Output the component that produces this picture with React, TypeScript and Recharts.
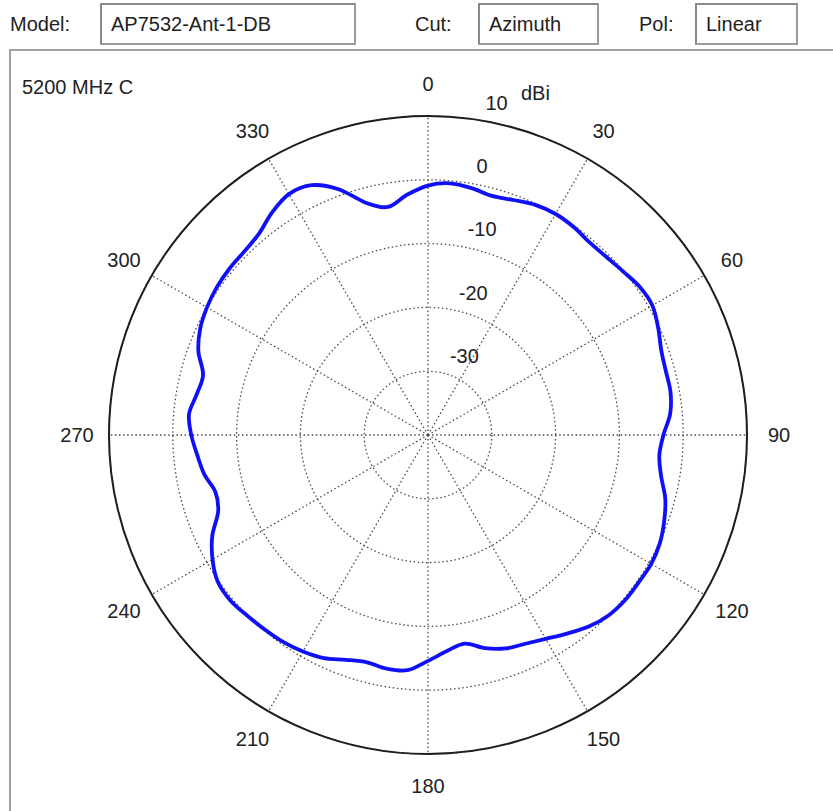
import React from 'react';
import { RadarChart, Radar, PolarGrid, PolarAngleAxis, PolarRadiusAxis } from 'recharts';

// ---- data ----
const angles = [
  0, 5, 10, 15, 20, 25, 30, 35, 40, 45, 50, 55,
  60, 65, 70, 75, 80, 85, 90, 95, 100, 105, 110, 115,
  120, 125, 130, 135, 140, 145, 150, 155, 160, 165, 170, 175,
  180, 185, 190, 195, 200, 205, 210, 215, 220, 225, 230, 235,
  240, 245, 250, 255, 260, 265, 270, 275, 280, 285, 290, 295,
  300, 305, 310, 315, 320, 325, 330, 335, 340, 345, 350, 355,
];
const gainDbi = [
  -0.9, -0.4, -0.7, -1.2, -0.8, -0.2, 0.0, -0.2, -0.6, -0.5, -0.1, 0.5,
  0.6, -0.2, -1.1, -1.4, -1.4, -1.9, -3.1, -3.6, -2.9, -1.5, -0.6, 0.1,
  0.4, 0.3, 0.3, 0.0, -0.8, -2.0, -3.1, -3.9, -4.4, -5.4, -6.8, -6.0,
  -4.6, -3.0, -2.8, -3.1, -2.5, -1.4, -0.8, -0.4, -0.2, 0.05, 0.4, 0.2,
  -1.0, -2.7, -5.0, -5.5, -4.4, -3.7, -2.9, -2.4, -3.2, -3.5, -1.7, -0.6,
  0.0, 0.4, 0.6, 0.7, 1.2, 2.6, 3.6, 3.2, 1.0, -2.3, -3.7, -2.2,
];
const angleTicks = [0, 30, 60, 90, 120, 150, 180, 210, 240, 270, 300, 330];
const radiusTicks = [-30, -20, -10, 0, 10];
const radiusDomain = [-40, 10];
const modelName = 'AP7532-Ant-1-DB';
const cutName = 'Azimuth';
const polName = 'Linear';
const bandLabel = '5200 MHz C';
const unitLabel = 'dBi';

const data = angles.map((a, i) => ({ angle: a, gain: gainDbi[i] }));

const FONT = '"Liberation Sans", Arial, Helvetica, sans-serif';
const TEXT = '#222';

const AngleTick = (props: any) => {
  const { x, y, payload } = props;
  return (
    <text x={x} y={y} textAnchor="middle" dominantBaseline="central" fontSize={20} fontFamily={FONT} fill={TEXT}>
      {payload.value}
    </text>
  );
};

const RadiusTick = (props: any) => {
  const { x, y, payload } = props;
  return (
    <g>
      <text x={x + 13} y={y - 16} textAnchor="start" dominantBaseline="central" fontSize={20} fontFamily={FONT} fill={TEXT}>
        {payload.value}
      </text>
      {payload.value === radiusTicks[radiusTicks.length - 1] && (
        <text x={x + 63} y={y - 26} textAnchor="middle" dominantBaseline="central" fontSize={20} fontFamily={FONT} fill={TEXT}>
          {unitLabel}
        </text>
      )}
    </g>
  );
};

// closed smooth curve through the points Recharts computed
const SmoothShape = (props: any) => {
  const pts = (props.points || []).filter((p: any) => p && Number.isFinite(p.x) && Number.isFinite(p.y));
  const n = pts.length;
  if (n < 3) return null;
  let d = `M${pts[0].x},${pts[0].y}`;
  for (let i = 0; i < n; i++) {
    const p0 = pts[(i - 1 + n) % n];
    const p1 = pts[i];
    const p2 = pts[(i + 1) % n];
    const p3 = pts[(i + 2) % n];
    const c1x = p1.x + (p2.x - p0.x) / 6;
    const c1y = p1.y + (p2.y - p0.y) / 6;
    const c2x = p2.x - (p3.x - p1.x) / 6;
    const c2y = p2.y - (p3.y - p1.y) / 6;
    d += ` C${c1x},${c1y} ${c2x},${c2y} ${p2.x},${p2.y}`;
  }
  d += ' Z';
  return (
    <path
      d={d}
      fill="none"
      stroke={props.stroke}
      strokeWidth={props.strokeWidth}
      strokeLinejoin="round"
      strokeLinecap="round"
    />
  );
};

const labelStyle: React.CSSProperties = {
  position: 'absolute',
  top: 3,
  height: 42,
  lineHeight: '42px',
  fontSize: 20,
  fontFamily: FONT,
  color: TEXT,
  whiteSpace: 'nowrap',
};

const boxStyle: React.CSSProperties = {
  ...labelStyle,
  boxSizing: 'border-box',
  lineHeight: '38px',
  border: '2px solid #9a9a9a',
  borderTopColor: '#8a8a8a',
  borderLeftColor: '#8a8a8a',
  paddingLeft: 9,
  background: '#fff',
};

export default function App() {
  return (
    <div style={{ position: 'absolute', left: 0, top: 0, width: 833, height: 811, overflow: 'hidden', background: '#fff' }}>
      <div style={{ ...labelStyle, left: 10 }}>Model:</div>
      <div style={{ ...boxStyle, left: 100, width: 256 }}>{modelName}</div>
      <div style={{ ...labelStyle, left: 415 }}>Cut:</div>
      <div style={{ ...boxStyle, left: 478, width: 121 }}>{cutName}</div>
      <div style={{ ...labelStyle, left: 639 }}>Pol:</div>
      <div style={{ ...boxStyle, left: 695, width: 103 }}>{polName}</div>
      <div
        style={{
          position: 'absolute',
          left: 9,
          top: 49,
          width: 1000,
          height: 1000,
          boxSizing: 'border-box',
          border: '2px solid #a0a0a0',
        }}
      />
      <div style={{ position: 'absolute', left: 22, top: 74, fontSize: 20, fontFamily: FONT, color: TEXT, lineHeight: '26px' }}>
        {bandLabel}
      </div>
      <div style={{ position: 'absolute', left: 0, top: 0 }}>
        <RadarChart
          width={833}
          height={811}
          data={data}
          cx={428}
          cy={435}
          innerRadius={0}
          outerRadius={319}
          startAngle={90}
          endAngle={-270}
          margin={{ top: 0, right: 0, bottom: 0, left: 0 }}
        >
          <PolarGrid gridType="circle" stroke="#4a4a4a" strokeWidth={1.3} strokeDasharray="1.5 2.6" />
          <PolarAngleAxis
            dataKey="angle"
            type="number"
            domain={[0, 360]}
            ticks={angleTicks}
            tick={<AngleTick />}
            tickLine={false}
            tickSize={32}
            axisLineType="circle"
            axisLine={{ stroke: '#1e1e1e', strokeWidth: 2 }}
          />
          <PolarRadiusAxis
            type="number"
            domain={radiusDomain}
            ticks={radiusTicks}
            angle={82}
            axisLine={false}
            tickLine={false}
            tick={<RadiusTick />}
          />
          <Radar
            dataKey="gain"
            stroke="#1010f8"
            strokeWidth={3.8}
            fill="none"
            fillOpacity={0}
            dot={false}
            shape={<SmoothShape />}
            isAnimationActive={false}
          />
        </RadarChart>
      </div>
    </div>
  );
}
